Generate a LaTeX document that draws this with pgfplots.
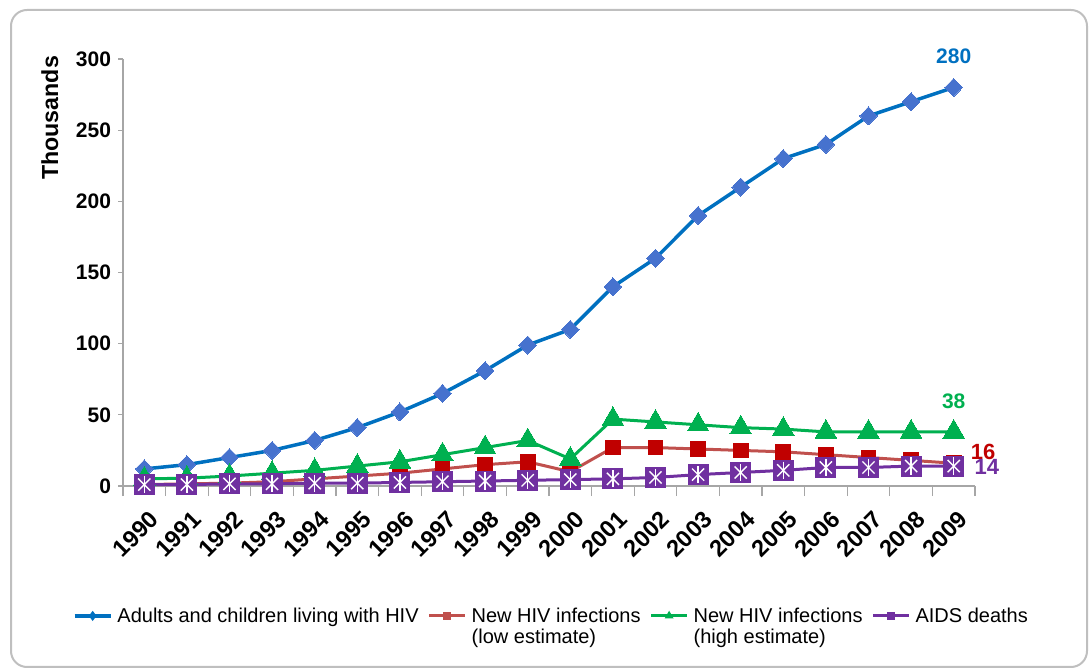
\documentclass[border=0pt]{standalone}
\usepackage{fontspec}
\setmainfont{Liberation Sans}
\usepackage{pgfplots}
\usepackage{pgfplotstable}
\pgfplotsset{compat=1.18}

\definecolor{hivblue}{RGB}{0,112,192}
\definecolor{hivdiamond}{RGB}{70,114,206}
\definecolor{lowline}{RGB}{192,80,77}
\definecolor{lowmark}{RGB}{192,0,0}
\definecolor{highgreen}{RGB}{0,176,80}
\definecolor{aidspurple}{RGB}{112,48,160}

% thousands
\pgfplotstableread{
year living low high deaths
1990 12 1 5 1
1991 15 1.5 5.5 1
1992 20 2 7 1.5
1993 25 3 9 1.5
1994 32 5 11 2
1995 41 7 14 2
1996 52 9 17 2.5
1997 65 12 22 3
1998 81 15 27 3.5
1999 99 17 32 4
2000 110 10 19 4.5
2001 140 27 47 5
2002 160 27 45 6
2003 190 26 43 8
2004 210 25 41 9.5
2005 230 24 40 11
2006 240 22 38 13
2007 260 20 38 13
2008 270 18 38 14
2009 280 16 38 14
}\hivdata

\begin{document}
\begin{tikzpicture}
\useasboundingbox (0,0) rectangle (546pt,334.5pt);
\draw[line width=1pt, gray!50, rounded corners=8pt] (5.5pt,1pt) rectangle (543.5pt,329.5pt);
\begin{axis}[
    at={(61.5pt,91.5pt)}, anchor=south west,
    scale only axis, width=426pt, height=213.5pt,
    xmin=1989.5, xmax=2009.5, ymin=0, ymax=300,
    clip=false,
    axis x line*=bottom, axis y line*=left,
    axis line style={gray!70, line width=0.6pt, -},
    tick align=outside,
    major tick length=2.5pt, minor tick length=5pt,
    xtick={1990,...,2009},
    minor xtick={1989.5,1990.5,...,2009.5},
    major x tick style={draw=none},
    minor x tick style={gray!70, line width=0.6pt},
    ytick={0,50,...,300},
    ytick style={gray!70, line width=0.6pt},
    /pgf/number format/1000 sep={},
    /pgf/number format/assume math mode=true,
    ticklabel style={font=\fontsize{10.5}{12}\selectfont\bfseries},
    xticklabel style={xshift=2pt, yshift=-9pt, rotate=45,
                      anchor=north east, inner sep=0pt,
                      font=\fontsize{11.8}{12}\selectfont\bfseries},
    ylabel={Thousands},
    ylabel style={at={(axis description cs:-0.086,0.862)}, anchor=center,
                  font=\fontsize{11.6}{12}\selectfont\bfseries},
    legend columns=4,
    legend style={at={(0.504,-0.267)}, anchor=north, draw=none,
                  font=\fontsize{10}{10.5}\selectfont,
                  cells={anchor=base west, inner xsep=1pt},
                  /tikz/every even column/.append style={column sep=2.5pt},
                  /tikz/every odd column/.append style={column sep=0.5pt}},
    legend image code/.code={
        \draw[mark repeat=2, mark phase=2, mark options={scale=0.55}]
        plot coordinates {(0pt,3.5pt) (9pt,3.5pt) (18pt,3.5pt)};},
]
\addplot[hivblue, line width=1.75pt, mark=diamond*,
         mark options={hivdiamond, xscale=1.3, mark size=4.5pt, line width=0pt}]
    table[x=year, y=living] {\hivdata};
\addlegendentry{Adults and children living with HIV}
\addplot[lowline, line width=1.5pt, mark=square*,
         mark options={lowmark, mark size=3.7pt, line width=0pt}]
    table[x=year, y=low] {\hivdata};
\addlegendentry{\vtop{\hbox{New HIV infections}\hbox{(low estimate)}}}
\addplot[highgreen, line width=1.5pt, mark=triangle*,
         mark options={highgreen, mark size=6.2pt, line width=0pt}]
    table[x=year, y=high] {\hivdata};
\addlegendentry{\vtop{\hbox{New HIV infections}\hbox{(high estimate)}}}
\addplot[aidspurple, line width=1.5pt, mark=square*,
         mark options={aidspurple, mark size=5pt, line width=0pt}]
    table[x=year, y=deaths] {\hivdata};
\addlegendentry{AIDS deaths}
\addplot[only marks, mark=x, forget plot,
         mark options={white, mark size=4.3pt, line width=0.7pt}]
    table[x=year, y=deaths] {\hivdata};
\addplot[only marks, mark=|, forget plot,
         mark options={white, mark size=4.3pt, line width=0.7pt}]
    table[x=year, y=deaths] {\hivdata};

\node[hivblue, font=\fontsize{10.5}{12}\selectfont\bfseries] at (axis cs:2009,302) {280};
\node[highgreen, font=\fontsize{10.5}{12}\selectfont\bfseries] at (axis cs:2009,59.7) {38};
\node[lowmark, fill=white, inner sep=2pt, font=\fontsize{11}{12}\selectfont\bfseries] at (axis cs:2009.69,23.9) {16};
\node[aidspurple, inner sep=1pt, font=\fontsize{11}{12}\selectfont\bfseries] at (axis cs:2009.78,13.3) {14};
\end{axis}
\end{tikzpicture}
\end{document}
